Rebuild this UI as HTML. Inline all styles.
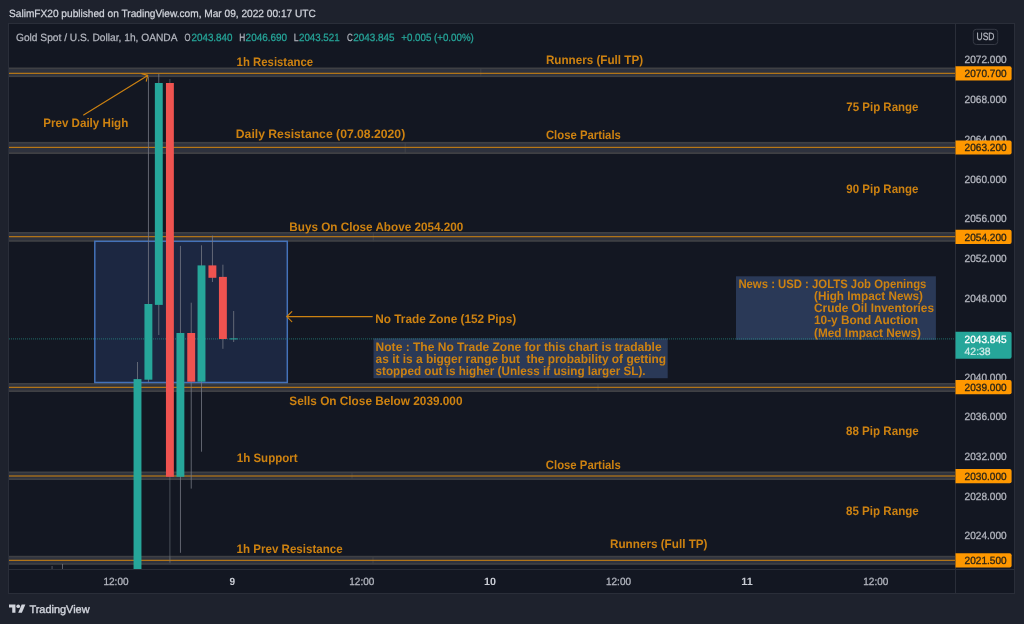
<!DOCTYPE html>
<html><head><meta charset="utf-8"><title>Gold Spot / U.S. Dollar chart</title>
<style>
html,body{margin:0;padding:0;background:#1e222d;}
body{width:1024px;height:624px;overflow:hidden;font-family:"Liberation Sans",sans-serif;}
svg{display:block;will-change:transform;filter:blur(0.3px);font-family:"Liberation Sans",sans-serif;}
text{white-space:pre;}
</style></head><body>
<svg width="1024" height="624" viewBox="0 0 1024 624" text-rendering="geometricPrecision">
<rect x="0" y="0" width="1024" height="624" fill="#1e222d"/>
<rect x="8.5" y="23.5" width="1006" height="570" fill="#131722" stroke="#2a2e39" stroke-width="1"/>
<rect x="9" y="67.5" width="946.5" height="9.60" fill="#3f4044"/>
<rect x="9" y="69.10" width="946.5" height="6.30" fill="#2e323e"/>
<rect x="480.25" y="68.00" width="1.1" height="8.60" fill="#404247"/>
<rect x="9" y="72.78" width="946.5" height="1.05" fill="#cd8211"/>
<rect x="9" y="141.9" width="946.5" height="12.10" fill="#3f4044"/>
<rect x="9" y="143.50" width="946.5" height="8.80" fill="#2e323e"/>
<rect x="404.65" y="142.40" width="1.1" height="11.10" fill="#404247"/>
<rect x="9" y="146.83" width="946.5" height="1.05" fill="#cd8211"/>
<rect x="9" y="232.0" width="946.5" height="9.80" fill="#3f4044"/>
<rect x="9" y="233.60" width="946.5" height="6.50" fill="#2e323e"/>
<rect x="372.75" y="232.50" width="1.1" height="8.80" fill="#404247"/>
<rect x="9" y="236.18" width="946.5" height="1.05" fill="#cd8211"/>
<rect x="9" y="383.0" width="946.5" height="9.00" fill="#3f4044"/>
<rect x="9" y="384.60" width="946.5" height="5.70" fill="#2e323e"/>
<rect x="597.45" y="383.50" width="1.1" height="8.00" fill="#404247"/>
<rect x="9" y="386.78" width="946.5" height="1.05" fill="#cd8211"/>
<rect x="9" y="471.5" width="946.5" height="8.50" fill="#3f4044"/>
<rect x="9" y="473.10" width="946.5" height="5.20" fill="#2e323e"/>
<rect x="351.45" y="472.00" width="1.1" height="7.50" fill="#404247"/>
<rect x="9" y="475.48" width="946.5" height="1.05" fill="#cd8211"/>
<rect x="9" y="555.8" width="946.5" height="9.00" fill="#3f4044"/>
<rect x="9" y="557.40" width="946.5" height="5.70" fill="#2e323e"/>
<rect x="169.45" y="556.30" width="1.1" height="8.00" fill="#404247"/>
<rect x="372.45" y="556.30" width="1.1" height="8.00" fill="#404247"/>
<rect x="9" y="559.78" width="946.5" height="1.05" fill="#cd8211"/>
<rect x="94.8" y="241.3" width="192.5" height="141.2" fill="#1c2741" stroke="#4472b9" stroke-width="1.5"/>
<rect x="736" y="276.3" width="199.9" height="63.6" fill="#2a3957"/>
<rect x="373.5" y="338.4" width="294.2" height="39.8" fill="#2a3957"/>
<line x1="9" y1="338.9" x2="955.5" y2="338.9" stroke="#26a69a" stroke-width="1.2" stroke-dasharray="1 1" opacity="0.47"/>
<rect x="51.6" y="566" width="0.9" height="3.6" fill="#787b86" opacity="0.7"/>
<rect x="62.1" y="564" width="0.9" height="5.6" fill="#787b86" opacity="0.8"/>
<rect x="137.05" y="362.0" width="0.9" height="207.60" fill="#787b86" opacity="0.85"/>
<rect x="133.55" y="379.1" width="7.9" height="190.50" fill="#26a69a"/>
<rect x="147.95" y="76.7" width="0.9" height="305.30" fill="#787b86" opacity="0.85"/>
<rect x="144.45" y="304.0" width="7.9" height="75.70" fill="#26a69a"/>
<rect x="158.35" y="74.0" width="0.9" height="261.00" fill="#787b86" opacity="0.85"/>
<rect x="154.85" y="83.0" width="7.9" height="221.90" fill="#26a69a"/>
<rect x="169.45" y="79.0" width="0.9" height="483.60" fill="#787b86" opacity="0.6"/>
<rect x="165.95" y="83.0" width="7.9" height="393.80" fill="#ef5350"/>
<rect x="179.95" y="245.9" width="0.9" height="306.90" fill="#787b86" opacity="0.85"/>
<rect x="176.45" y="333.0" width="7.9" height="143.80" fill="#26a69a"/>
<rect x="190.75" y="302.7" width="0.9" height="185.90" fill="#787b86" opacity="0.85"/>
<rect x="187.25" y="333.0" width="7.9" height="48.70" fill="#ef5350"/>
<rect x="201.05" y="245.3" width="0.9" height="206.40" fill="#787b86" opacity="0.85"/>
<rect x="197.55" y="265.4" width="7.9" height="116.30" fill="#26a69a"/>
<rect x="211.95" y="235.6" width="0.9" height="46.40" fill="#787b86" opacity="0.85"/>
<rect x="208.45" y="265.4" width="7.9" height="12.40" fill="#ef5350"/>
<rect x="222.45" y="264.7" width="0.9" height="84.10" fill="#787b86" opacity="0.85"/>
<rect x="218.95" y="276.9" width="7.9" height="62.10" fill="#ef5350"/>
<rect x="233.25" y="311.0" width="0.9" height="31.00" fill="#787b86" opacity="0.85"/>
<rect x="229.75" y="338.4" width="7.9" height="1.00" fill="#26a69a"/>
<g stroke="#cd8211" stroke-width="1.15" fill="none" stroke-linecap="round">
<path d="M83.6 114.9 L147.7 75.4 M141.8 73.6 L147.7 75.4 L146.3 81.2"/>
<path d="M372.3 316.6 L286.8 316.6 M291.8 311.6 L286.8 316.6 L291.8 321.6"/>
</g>
<text x="236.60" y="66.30" font-size="12.3" font-weight="bold" fill="#cd8211" text-anchor="start" textLength="76.50" lengthAdjust="spacingAndGlyphs">1h Resistance</text>
<text x="545.90" y="64.40" font-size="12.3" font-weight="bold" fill="#cd8211" text-anchor="start" textLength="97.20" lengthAdjust="spacingAndGlyphs">Runners (Full TP)</text>
<text x="43.20" y="126.80" font-size="12.3" font-weight="bold" fill="#cd8211" text-anchor="start" textLength="85.10" lengthAdjust="spacingAndGlyphs">Prev Daily High</text>
<text x="235.80" y="137.60" font-size="12.3" font-weight="bold" fill="#cd8211" text-anchor="start" textLength="169.40" lengthAdjust="spacingAndGlyphs">Daily Resistance (07.08.2020)</text>
<text x="545.90" y="138.70" font-size="12.3" font-weight="bold" fill="#cd8211" text-anchor="start" textLength="75.00" lengthAdjust="spacingAndGlyphs">Close Partials</text>
<text x="846.30" y="111.40" font-size="12.3" font-weight="bold" fill="#cd8211" text-anchor="start" textLength="72.20" lengthAdjust="spacingAndGlyphs">75 Pip Range</text>
<text x="846.30" y="193.10" font-size="12.3" font-weight="bold" fill="#cd8211" text-anchor="start" textLength="72.20" lengthAdjust="spacingAndGlyphs">90 Pip Range</text>
<text x="289.30" y="231.00" font-size="12.3" font-weight="bold" fill="#cd8211" text-anchor="start" textLength="174.00" lengthAdjust="spacingAndGlyphs">Buys On Close Above 2054.200</text>
<text x="375.30" y="322.70" font-size="12.3" font-weight="bold" fill="#cd8211" text-anchor="start" textLength="141.00" lengthAdjust="spacingAndGlyphs">No Trade Zone (152 Pips)</text>
<text x="289.30" y="404.80" font-size="12.3" font-weight="bold" fill="#cd8211" text-anchor="start" textLength="173.20" lengthAdjust="spacingAndGlyphs">Sells On Close Below 2039.000</text>
<text x="846.00" y="435.30" font-size="12.3" font-weight="bold" fill="#cd8211" text-anchor="start" textLength="72.80" lengthAdjust="spacingAndGlyphs">88 Pip Range</text>
<text x="236.80" y="462.00" font-size="12.3" font-weight="bold" fill="#cd8211" text-anchor="start" textLength="60.80" lengthAdjust="spacingAndGlyphs">1h Support</text>
<text x="545.80" y="468.80" font-size="12.3" font-weight="bold" fill="#cd8211" text-anchor="start" textLength="75.00" lengthAdjust="spacingAndGlyphs">Close Partials</text>
<text x="846.00" y="515.40" font-size="12.3" font-weight="bold" fill="#cd8211" text-anchor="start" textLength="72.80" lengthAdjust="spacingAndGlyphs">85 Pip Range</text>
<text x="236.60" y="552.80" font-size="12.3" font-weight="bold" fill="#cd8211" text-anchor="start" textLength="106.00" lengthAdjust="spacingAndGlyphs">1h Prev Resistance</text>
<text x="610.00" y="548.30" font-size="12.3" font-weight="bold" fill="#cd8211" text-anchor="start" textLength="97.50" lengthAdjust="spacingAndGlyphs">Runners (Full TP)</text>
<text x="375.60" y="350.60" font-size="12.3" font-weight="bold" fill="#cd8211" text-anchor="start" textLength="286.00" lengthAdjust="spacingAndGlyphs">Note : The No Trade Zone for this chart is tradable</text>
<text x="375.60" y="362.90" font-size="12.3" font-weight="bold" fill="#cd8211" text-anchor="start" textLength="290.50" lengthAdjust="spacingAndGlyphs">as it is a bigger range but  the probability of getting</text>
<text x="375.60" y="375.20" font-size="12.3" font-weight="bold" fill="#cd8211" text-anchor="start" textLength="270.00" lengthAdjust="spacingAndGlyphs">stopped out is higher (Unless if using larger SL).</text>
<text x="738.40" y="288.20" font-size="12.3" font-weight="bold" fill="#cd8211" text-anchor="start" textLength="188.00" lengthAdjust="spacingAndGlyphs">News : USD : JOLTS Job Openings</text>
<text x="814.00" y="300.30" font-size="12.3" font-weight="bold" fill="#cd8211" text-anchor="start" textLength="109.00" lengthAdjust="spacingAndGlyphs">(High Impact News)</text>
<text x="814.00" y="312.00" font-size="12.3" font-weight="bold" fill="#cd8211" text-anchor="start" textLength="120.00" lengthAdjust="spacingAndGlyphs">Crude Oil Inventories</text>
<text x="814.00" y="324.00" font-size="12.3" font-weight="bold" fill="#cd8211" text-anchor="start" textLength="104.00" lengthAdjust="spacingAndGlyphs">10-y Bond Auction</text>
<text x="814.00" y="336.90" font-size="12.3" font-weight="bold" fill="#cd8211" text-anchor="start" textLength="107.00" lengthAdjust="spacingAndGlyphs">(Med Impact News)</text>
<line x1="955.5" y1="24" x2="955.5" y2="593" stroke="#2a2e39" stroke-width="1"/>
<line x1="9" y1="569.5" x2="1014" y2="569.5" stroke="#2a2e39" stroke-width="1"/>
<text x="964.60" y="62.90" font-size="10.5" font-weight="normal" fill="#b2b5be" text-anchor="start" textLength="42.00" lengthAdjust="spacingAndGlyphs" stroke="#b2b5be" stroke-width="0.3">2072.000</text>
<text x="964.60" y="103.40" font-size="10.5" font-weight="normal" fill="#b2b5be" text-anchor="start" textLength="42.00" lengthAdjust="spacingAndGlyphs" stroke="#b2b5be" stroke-width="0.3">2068.000</text>
<text x="964.60" y="143.10" font-size="10.5" font-weight="normal" fill="#b2b5be" text-anchor="start" textLength="42.00" lengthAdjust="spacingAndGlyphs" stroke="#b2b5be" stroke-width="0.3">2064.000</text>
<text x="964.60" y="182.90" font-size="10.5" font-weight="normal" fill="#b2b5be" text-anchor="start" textLength="42.00" lengthAdjust="spacingAndGlyphs" stroke="#b2b5be" stroke-width="0.3">2060.000</text>
<text x="964.60" y="222.30" font-size="10.5" font-weight="normal" fill="#b2b5be" text-anchor="start" textLength="42.00" lengthAdjust="spacingAndGlyphs" stroke="#b2b5be" stroke-width="0.3">2056.000</text>
<text x="964.60" y="262.00" font-size="10.5" font-weight="normal" fill="#b2b5be" text-anchor="start" textLength="42.00" lengthAdjust="spacingAndGlyphs" stroke="#b2b5be" stroke-width="0.3">2052.000</text>
<text x="964.60" y="301.60" font-size="10.5" font-weight="normal" fill="#b2b5be" text-anchor="start" textLength="42.00" lengthAdjust="spacingAndGlyphs" stroke="#b2b5be" stroke-width="0.3">2048.000</text>
<text x="964.60" y="380.90" font-size="10.5" font-weight="normal" fill="#b2b5be" text-anchor="start" textLength="42.00" lengthAdjust="spacingAndGlyphs" stroke="#b2b5be" stroke-width="0.3">2040.000</text>
<text x="964.60" y="420.40" font-size="10.5" font-weight="normal" fill="#b2b5be" text-anchor="start" textLength="42.00" lengthAdjust="spacingAndGlyphs" stroke="#b2b5be" stroke-width="0.3">2036.000</text>
<text x="964.60" y="460.10" font-size="10.5" font-weight="normal" fill="#b2b5be" text-anchor="start" textLength="42.00" lengthAdjust="spacingAndGlyphs" stroke="#b2b5be" stroke-width="0.3">2032.000</text>
<text x="964.60" y="499.80" font-size="10.5" font-weight="normal" fill="#b2b5be" text-anchor="start" textLength="42.00" lengthAdjust="spacingAndGlyphs" stroke="#b2b5be" stroke-width="0.3">2028.000</text>
<text x="964.60" y="539.30" font-size="10.5" font-weight="normal" fill="#b2b5be" text-anchor="start" textLength="42.00" lengthAdjust="spacingAndGlyphs" stroke="#b2b5be" stroke-width="0.3">2024.000</text>
<path d="M955.5 66.20H1009.6a2 2 0 0 1 2 2V78.40a2 2 0 0 1 -2 2H955.5z" fill="#ff9800"/>
<text x="964.60" y="77.10" font-size="10.5" font-weight="normal" fill="#2a2418" text-anchor="start" textLength="42.00" lengthAdjust="spacingAndGlyphs" stroke="#2a2418" stroke-width="0.3">2070.700</text>
<path d="M955.5 140.40H1009.6a2 2 0 0 1 2 2V152.60a2 2 0 0 1 -2 2H955.5z" fill="#ff9800"/>
<text x="964.60" y="151.30" font-size="10.5" font-weight="normal" fill="#2a2418" text-anchor="start" textLength="42.00" lengthAdjust="spacingAndGlyphs" stroke="#2a2418" stroke-width="0.3">2063.200</text>
<path d="M955.5 229.70H1009.6a2 2 0 0 1 2 2V241.90a2 2 0 0 1 -2 2H955.5z" fill="#ff9800"/>
<text x="964.60" y="240.60" font-size="10.5" font-weight="normal" fill="#2a2418" text-anchor="start" textLength="42.00" lengthAdjust="spacingAndGlyphs" stroke="#2a2418" stroke-width="0.3">2054.200</text>
<path d="M955.5 380.10H1009.6a2 2 0 0 1 2 2V392.30a2 2 0 0 1 -2 2H955.5z" fill="#ff9800"/>
<text x="964.60" y="391.00" font-size="10.5" font-weight="normal" fill="#2a2418" text-anchor="start" textLength="42.00" lengthAdjust="spacingAndGlyphs" stroke="#2a2418" stroke-width="0.3">2039.000</text>
<path d="M955.5 469.10H1009.6a2 2 0 0 1 2 2V481.30a2 2 0 0 1 -2 2H955.5z" fill="#ff9800"/>
<text x="964.60" y="480.00" font-size="10.5" font-weight="normal" fill="#2a2418" text-anchor="start" textLength="42.00" lengthAdjust="spacingAndGlyphs" stroke="#2a2418" stroke-width="0.3">2030.000</text>
<path d="M955.5 553.30H1009.6a2 2 0 0 1 2 2V565.50a2 2 0 0 1 -2 2H955.5z" fill="#ff9800"/>
<text x="964.60" y="564.20" font-size="10.5" font-weight="normal" fill="#2a2418" text-anchor="start" textLength="42.00" lengthAdjust="spacingAndGlyphs" stroke="#2a2418" stroke-width="0.3">2021.500</text>
<path d="M955.5 331.7H1009.6a2 2 0 0 1 2 2V356.8a2 2 0 0 1 -2 2H955.5z" fill="#26a69a"/>
<text x="964.60" y="342.90" font-size="10.5" font-weight="normal" fill="#ffffff" text-anchor="start" textLength="42.00" lengthAdjust="spacingAndGlyphs" stroke="#ffffff" stroke-width="0.3">2043.845</text>
<text x="964.60" y="354.90" font-size="10.5" font-weight="normal" fill="#d5edea" text-anchor="start" textLength="26.00" lengthAdjust="spacingAndGlyphs" stroke="#d5edea" stroke-width="0.2">42:38</text>
<rect x="973.3" y="29.3" width="24.4" height="15.2" rx="3" fill="none" stroke="#363a45" stroke-width="1"/>
<text x="985.50" y="40.00" font-size="10.5" font-weight="normal" fill="#b2b5be" text-anchor="middle" textLength="18.00" lengthAdjust="spacingAndGlyphs" stroke="#b2b5be" stroke-width="0.3">USD</text>
<text x="116.00" y="585.00" font-size="10.5" font-weight="normal" fill="#b2b5be" text-anchor="middle" textLength="25.00" lengthAdjust="spacingAndGlyphs" stroke="#b2b5be" stroke-width="0.3">12:00</text>
<text x="232.40" y="585.00" font-size="10.5" font-weight="bold" fill="#c9ccd4" text-anchor="middle" textLength="5.60" lengthAdjust="spacingAndGlyphs">9</text>
<text x="361.80" y="585.00" font-size="10.5" font-weight="normal" fill="#b2b5be" text-anchor="middle" textLength="25.00" lengthAdjust="spacingAndGlyphs" stroke="#b2b5be" stroke-width="0.3">12:00</text>
<text x="490.00" y="585.00" font-size="10.5" font-weight="bold" fill="#c9ccd4" text-anchor="middle" textLength="12.00" lengthAdjust="spacingAndGlyphs">10</text>
<text x="618.50" y="585.00" font-size="10.5" font-weight="normal" fill="#b2b5be" text-anchor="middle" textLength="25.00" lengthAdjust="spacingAndGlyphs" stroke="#b2b5be" stroke-width="0.3">12:00</text>
<text x="747.00" y="585.00" font-size="10.5" font-weight="bold" fill="#c9ccd4" text-anchor="middle" textLength="11.50" lengthAdjust="spacingAndGlyphs">11</text>
<text x="875.80" y="585.00" font-size="10.5" font-weight="normal" fill="#b2b5be" text-anchor="middle" textLength="25.00" lengthAdjust="spacingAndGlyphs" stroke="#b2b5be" stroke-width="0.3">12:00</text>
<text x="9.00" y="17.00" font-size="10.5" font-weight="normal" fill="#d1d4dc" text-anchor="start" textLength="306.80" lengthAdjust="spacingAndGlyphs" stroke="#d1d4dc" stroke-width="0.25">SalimFX20 published on TradingView.com, Mar 09, 2022 00:17 UTC</text>
<text x="16.00" y="40.80" font-size="10.5" font-weight="normal" fill="#b2b5be" text-anchor="start" textLength="161.50" lengthAdjust="spacingAndGlyphs" stroke="#b2b5be" stroke-width="0.25">Gold Spot / U.S. Dollar, 1h, OANDA</text>
<text x="184.60" y="40.80" font-size="10.5" font-weight="normal" fill="#b2b5be" text-anchor="start" textLength="6.00" lengthAdjust="spacingAndGlyphs" stroke="#b2b5be" stroke-width="0.25">O</text>
<text x="191.50" y="40.80" font-size="10.5" font-weight="normal" fill="#26a69a" text-anchor="start" textLength="41.00" lengthAdjust="spacingAndGlyphs" stroke="#26a69a" stroke-width="0.25">2043.840</text>
<text x="239.30" y="40.80" font-size="10.5" font-weight="normal" fill="#b2b5be" text-anchor="start" textLength="6.00" lengthAdjust="spacingAndGlyphs" stroke="#b2b5be" stroke-width="0.25">H</text>
<text x="245.60" y="40.80" font-size="10.5" font-weight="normal" fill="#26a69a" text-anchor="start" textLength="41.50" lengthAdjust="spacingAndGlyphs" stroke="#26a69a" stroke-width="0.25">2046.690</text>
<text x="293.80" y="40.80" font-size="10.5" font-weight="normal" fill="#b2b5be" text-anchor="start" textLength="4.80" lengthAdjust="spacingAndGlyphs" stroke="#b2b5be" stroke-width="0.25">L</text>
<text x="299.00" y="40.80" font-size="10.5" font-weight="normal" fill="#26a69a" text-anchor="start" textLength="40.60" lengthAdjust="spacingAndGlyphs" stroke="#26a69a" stroke-width="0.25">2043.521</text>
<text x="347.00" y="40.80" font-size="10.5" font-weight="normal" fill="#b2b5be" text-anchor="start" textLength="5.80" lengthAdjust="spacingAndGlyphs" stroke="#b2b5be" stroke-width="0.25">C</text>
<text x="353.20" y="40.80" font-size="10.5" font-weight="normal" fill="#26a69a" text-anchor="start" textLength="41.30" lengthAdjust="spacingAndGlyphs" stroke="#26a69a" stroke-width="0.25">2043.845</text>
<text x="401.30" y="40.80" font-size="10.5" font-weight="normal" fill="#26a69a" text-anchor="start" textLength="72.50" lengthAdjust="spacingAndGlyphs" stroke="#26a69a" stroke-width="0.25">+0.005 (+0.00%)</text>
<g fill="#d1d4dc" transform="translate(9,602.55) scale(0.461)"><path d="M14 22H7V11H0V4h14v18z"/><circle cx="20" cy="8" r="4"/><path d="M28 22h-8l7.5-18h8L28 22z"/></g>
<text x="29.40" y="612.80" font-size="11" font-weight="normal" fill="#cfd2da" text-anchor="start" textLength="60.20" lengthAdjust="spacingAndGlyphs" stroke="#cfd2da" stroke-width="0.4">TradingView</text>
</svg>
</body></html>
